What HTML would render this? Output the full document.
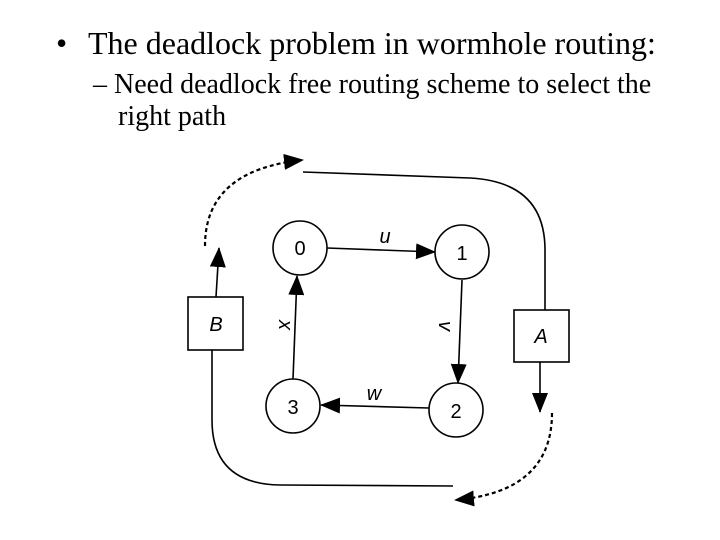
<!DOCTYPE html>
<html><head><meta charset="utf-8"><style>
body{margin:0;width:720px;height:540px;background:#fff;overflow:hidden;position:relative;font-family:"Liberation Serif",serif;color:#000}
.t{position:absolute;white-space:nowrap;line-height:1}
</style></head><body>
<div class="t" style="left:56px;top:27px;font-size:32px">•</div>
<div class="t" style="left:88px;top:27px;font-size:32px">The deadlock problem in wormhole routing:</div>
<div class="t" style="left:93px;top:71px;font-size:28px">– Need deadlock free routing scheme to select the</div>
<div class="t" style="left:118px;top:103px;font-size:28px">right path</div>
<svg width="720" height="540" style="position:absolute;left:0;top:0" font-family="Liberation Sans, sans-serif" font-style="italic">
<defs>
<marker id="b" markerWidth="20" markerHeight="16" refX="19" refY="8" orient="auto" markerUnits="userSpaceOnUse"><path d="M0,0 L20,8 L0,16 z" fill="#000"/></marker></defs>
<g fill="none" stroke="#000" stroke-width="1.6">
<circle cx="300" cy="248" r="27"/><circle cx="462" cy="252" r="27"/>
<circle cx="456" cy="410" r="27"/><circle cx="293" cy="406" r="27"/>
<rect x="188" y="297" width="55" height="53"/><rect x="514" y="310" width="55" height="52"/>
<line x1="327" y1="248" x2="435" y2="252" marker-end="url(#b)"/>
<line x1="462" y1="280" x2="458" y2="383" marker-end="url(#b)"/>
<line x1="429" y1="408" x2="321" y2="405" marker-end="url(#b)"/>
<line x1="293" y1="379" x2="297" y2="276" marker-end="url(#b)"/>
<line x1="216" y1="297" x2="219" y2="248" marker-end="url(#b)"/>
<line x1="540" y1="362" x2="540" y2="412" marker-end="url(#b)"/>
<path d="M303,172 L470,178 Q545,182 545,250 L545,310"/>
<path d="M212,350 L212,420 Q212,484 280,485 L453,486"/>
<path d="M205,246 Q205,170 303,160" stroke-dasharray="4,3" stroke-width="2.2" marker-end="url(#b)"/>
<path d="M552,413 Q552,492 455,500" stroke-dasharray="4,3" stroke-width="2.2" marker-end="url(#b)"/>
</g>
<g font-size="20" font-style="normal" text-anchor="middle">
<text x="300" y="255">0</text><text x="462" y="260">1</text><text x="456" y="418">2</text><text x="293" y="414">3</text>
</g>
<g font-size="20" text-anchor="middle">
<text x="216" y="331">B</text><text x="541" y="343">A</text>
<text x="385" y="243">u</text><text x="374" y="400">w</text>
<text transform="translate(279,325) rotate(90)">x</text>
<text transform="translate(439,326) rotate(90)">v</text>
</g>
</svg>
</body></html>
